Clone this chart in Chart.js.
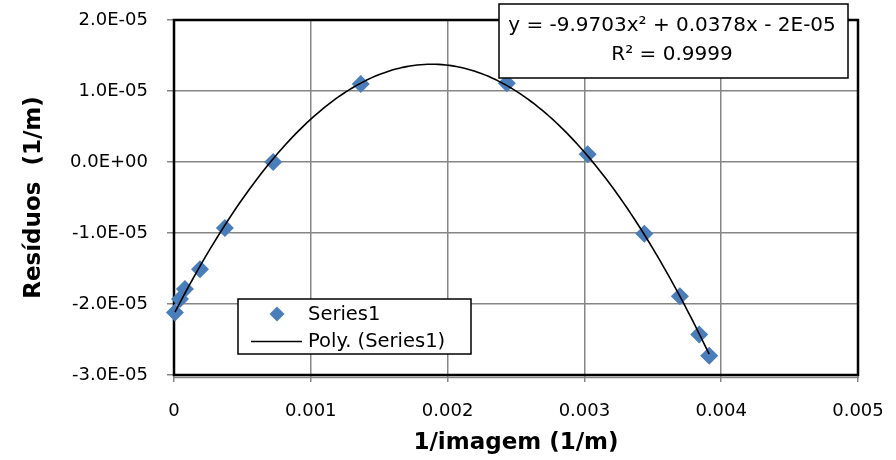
<!DOCTYPE html>
<html>
<head>
<meta charset="utf-8">
<script src="https://cdn.jsdelivr.net/npm/chart.js@4.4.1/dist/chart.umd.min.js"></script>
<style>
html, body { margin: 0; padding: 0; background: #fff; }
</style>
</head>
<body>
<canvas id="myChart" width="896" height="460"></canvas>
<script>
// values
var xValues = [0.000007, 0.000044, 0.00008, 0.00019, 0.000372, 0.000725, 0.001365, 0.002433, 0.003024, 0.003438, 0.003698, 0.003839, 0.003912];
var yValues = [-2.12e-5, -1.93e-5, -1.79e-5, -1.51e-5, -0.93e-5, 0.0, 1.10e-5, 1.11e-5, 0.11e-5, -1.01e-5, -1.89e-5, -2.43e-5, -2.73e-5];

var xTicks = [0, 0.001, 0.002, 0.003, 0.004, 0.005];
var xTickLabels = ['0', '0.001', '0.002', '0.003', '0.004', '0.005'];
var yTicks = [-3e-5, -2e-5, -1e-5, 0, 1e-5, 2e-5];
var yTickLabels = ['-3.0E-05', '-2.0E-05', '-1.0E-05', '0.0E+00', '1.0E-05', '2.0E-05'];

var seriesName = 'Series1';
var trendName = 'Poly. (Series1)';
var equationText = 'y = -9.9703x\u00b2 + 0.0378x - 2E-05';
var r2Text = 'R\u00b2 = 0.9999';

// 2nd order least squares fit of the points (the trendline)
function det3(m) {
    return m[0][0] * (m[1][1] * m[2][2] - m[1][2] * m[2][1])
         - m[0][1] * (m[1][0] * m[2][2] - m[1][2] * m[2][0])
         + m[0][2] * (m[1][0] * m[2][1] - m[1][1] * m[2][0]);
}
function polyFit(xs, ys) {
    // scaled to keep numbers sane
    var s = [0, 0, 0, 0, 0], t = [0, 0, 0];
    for (var i = 0; i < xs.length; i++) {
        var x = xs[i] * 1000, y = ys[i] * 1e5;
        for (var k = 0; k < 5; k++) s[k] += Math.pow(x, k);
        for (var k = 0; k < 3; k++) t[k] += y * Math.pow(x, k);
    }
    var M = [[s[0], s[1], s[2]], [s[1], s[2], s[3]], [s[2], s[3], s[4]]];
    var D = det3(M);
    var c = [];
    for (var j = 0; j < 3; j++) {
        var Mj = M.map(function (row, r) { var n = row.slice(); n[j] = t[r]; return n; });
        c.push(det3(Mj) / D);
    }
    return c; // c0 + c1*X + c2*X^2 in scaled units
}
var coef = polyFit(xValues, yValues);
var trendPoints = [];
var xMin = Math.min.apply(null, xValues), xMax = Math.max.apply(null, xValues);
for (var i = 0; i <= 150; i++) {
    var xv = xMin + (xMax - xMin) * i / 150;
    var X = xv * 1000;
    trendPoints.push({ x: xv, y: (coef[0] + coef[1] * X + coef[2] * X * X) / 1e5 });
}

var points = xValues.map(function (v, i) { return { x: v, y: yValues[i] }; });

var FONT = 'DejaVu Sans';
var BLUE = '#4A7EBB';
var GRID = '#868686';

var whiteBg = {
    id: 'whiteBg',
    beforeDraw: function (chart) {
        var c = chart.ctx;
        c.save();
        c.fillStyle = '#fff';
        c.fillRect(0, 0, chart.width, chart.height);
        c.restore();
    }
};

var plotFrame = {
    id: 'plotFrame',
    beforeDatasetsDraw: function (chart) {
        var a = chart.chartArea, c = chart.ctx;
        c.save();
        c.strokeStyle = '#000';
        c.lineWidth = 2.5;
        c.strokeRect(a.left, a.top, a.right - a.left, a.bottom - a.top);
        c.strokeStyle = GRID;
        c.lineWidth = 1.5;
        c.beginPath();
        c.moveTo(a.left - 1, a.bottom + 2.5);
        c.lineTo(a.right + 1, a.bottom + 2.5);
        c.stroke();
        c.restore();
    }
};

var boxes = {
    id: 'boxes',
    afterDraw: function (chart) {
        var c = chart.ctx;
        c.save();
        // legend box
        c.fillStyle = '#fff';
        c.fillRect(238, 299, 233, 55);
        c.strokeStyle = '#000';
        c.lineWidth = 1.5;
        c.strokeRect(238, 299, 233, 55);
        c.fillStyle = BLUE;
        c.beginPath();
        c.moveTo(277, 306.5);
        c.lineTo(284.5, 314);
        c.lineTo(277, 321.5);
        c.lineTo(269.5, 314);
        c.closePath();
        c.fill();
        c.strokeStyle = '#000';
        c.lineWidth = 1.5;
        c.beginPath();
        c.moveTo(251, 341.5);
        c.lineTo(302, 341.5);
        c.stroke();
        c.fillStyle = '#000';
        c.font = '19.5px "' + FONT + '"';
        c.textAlign = 'left';
        c.textBaseline = 'middle';
        c.fillText(chart.data.datasets[0].label, 308, 315);
        c.fillText(chart.data.datasets[1].label, 308, 342);

        // equation box
        c.fillStyle = '#fff';
        c.fillRect(499, 4, 349, 74);
        c.strokeStyle = '#000';
        c.lineWidth = 1.5;
        c.strokeRect(499, 4, 349, 74);
        c.fillStyle = '#000';
        c.font = '20px "' + FONT + '"';
        c.textAlign = 'center';
        c.fillText(equationText, 672, 26);
        c.fillText(r2Text, 672, 55);
        c.restore();
    }
};

var ctx = document.getElementById('myChart').getContext('2d');
var myChart = new Chart(ctx, {
    type: 'scatter',
    data: {
        datasets: [{
            label: seriesName,
            data: points,
            pointStyle: 'rectRot',
            pointRadius: 9,
            pointHoverRadius: 9,
            backgroundColor: BLUE,
            borderColor: BLUE,
            borderWidth: 0,
            order: 1
        }, {
            label: trendName,
            type: 'line',
            data: trendPoints,
            borderColor: '#000',
            borderWidth: 1.6,
            pointRadius: 0,
            fill: false,
            tension: 0,
            order: 0
        }]
    },
    options: {
        responsive: false,
        animation: false,
        clip: false,
        layout: { padding: { top: 20, right: 38, left: 0, bottom: 0 } },
        plugins: {
            legend: { display: false },
            tooltip: { enabled: false }
        },
        scales: {
            x: {
                type: 'linear',
                min: 0,
                max: 0.005,
                afterBuildTicks: function (s) { s.ticks = xTicks.map(function (v) { return { value: v }; }); },
                afterFit: function (s) { s.height = 85; s.paddingLeft = 0; s.paddingRight = 0; },
                ticks: {
                    callback: function (v, i) { return xTickLabels[i]; },
                    font: { family: FONT, size: 18 },
                    color: '#000',
                    padding: 19,
                    maxRotation: 0,
                    autoSkip: false
                },
                grid: { color: GRID, lineWidth: 1.5, tickLength: 7, tickColor: GRID },
                border: { display: true, color: GRID, width: 1.5 },
                title: {
                    display: true,
                    text: '1/imagem (1/m)',
                    font: { family: FONT, size: 23, weight: 'bold' },
                    color: '#000',
                    padding: { top: 0, bottom: 3 }
                }
            },
            y: {
                type: 'linear',
                min: -3e-5,
                max: 2e-5,
                afterBuildTicks: function (s) { s.ticks = yTicks.map(function (v) { return { value: v }; }); },
                afterFit: function (s) { s.width = 174; s.paddingTop = 0; s.paddingBottom = 0; },
                ticks: {
                    callback: function (v, i) { return yTickLabels[i]; },
                    font: { family: FONT, size: 18 },
                    color: '#000',
                    padding: 19,
                    autoSkip: false
                },
                grid: { color: GRID, lineWidth: 1.5, tickLength: 7, tickColor: GRID },
                border: { display: true, color: GRID, width: 1.5 },
                title: {
                    display: true,
                    text: 'Resíduos  (1/m)',
                    font: { family: FONT, size: 23, weight: 'bold' },
                    color: '#000',
                    padding: { top: 20, bottom: 0 }
                }
            }
        }
    },
    plugins: [whiteBg, plotFrame, boxes]
});
</script>
</body>
</html>
